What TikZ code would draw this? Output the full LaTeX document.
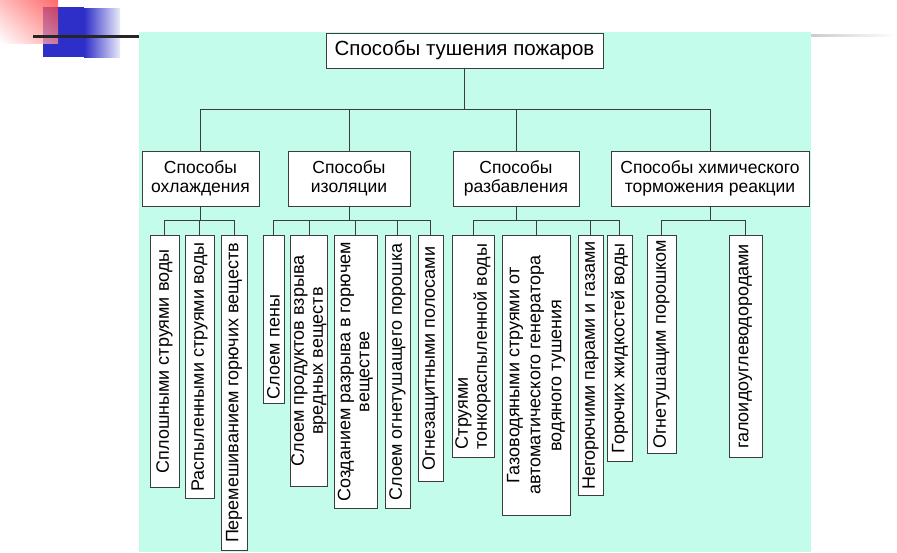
\documentclass[tikz,border=0pt]{standalone}
\usepackage{fontspec}
\setmainfont{Liberation Sans}
\usetikzlibrary{shadings}
\definecolor{bgmint}{RGB}{196,252,236}
\definecolor{linec}{RGB}{60,60,60}
\definecolor{decoblue}{RGB}{46,46,200}
\definecolor{decored}{RGB}{255,55,55}
\begin{document}
\begin{tikzpicture}[x=1pt,y=-1pt,
	box/.style={draw=linec, line width=0.8pt, fill=white, align=center, inner sep=2pt, font=\fontsize{17.5}{18.5}\selectfont},
	leaf/.style={draw=linec, line width=0.8pt, fill=white, rotate=90, anchor=east, inner xsep=4pt, inner ysep=1pt, align=center, font=\fontsize{18}{19}\selectfont},
	link/.style={draw=linec, line width=0.8pt}]
	\useasboundingbox (0,0) rectangle (897,552);
	% slide decoration
	\fill[decoblue] (43,7) rectangle (84,57);
	\shade[left color=decoblue, right color=decoblue!10] (84,8) rectangle (120,57);
	\shade[upper right=decored, upper left=decored!45, lower left=white, lower right=decored!55, fill opacity=0.75] (0,0) rectangle (58,43);
	\draw[line width=3pt, black!85] (33,36) -- (139,36);
	\shade[left color=black!20, right color=white] (811,34) rectangle (897,36);
	\fill[bgmint] (139,32) rectangle (811,552);

	\node[box, minimum width=277pt, minimum height=35pt, font=\fontsize{20.5}{22}\selectfont] (t) at (464.5,50.5) {Способы тушения пожаров};

	\node[box, minimum width=117pt, minimum height=55pt] (s1) at (200.5,178.5) {Способы\\охлаждения};
	\node[box, minimum width=122pt, minimum height=55pt] (s2) at (349,178.5) {Способы\\изоляции};
	\node[box, minimum width=126pt, minimum height=55pt] (s3) at (516,178.5) {Способы\\разбавления};
	\node[box, minimum width=198pt, minimum height=55pt] (s4) at (710,178.5) {Способы химического\\торможения реакции};

	% leaves, top edge at y=235
	\node[leaf, minimum width=252pt, minimum height=29pt] (c1) at (164.5,235) {Сплошными струями воды};
	\node[leaf, minimum width=263pt, minimum height=29pt] (c2) at (199.5,235) {Распыленными струями воды};
	\node[leaf, minimum width=315pt, minimum height=26pt] (c3) at (234,235) {Перемешиванием горючих веществ};
	\node[leaf, text width=160pt, align=left, minimum height=21pt] (c4) at (273.5,235) {Слоем пены};
	\node[leaf, minimum width=251pt, minimum height=34pt] (c5) at (309,235) {Слоем продуктов взрыва\\вредных веществ};
	\node[leaf, minimum width=273pt, minimum height=43pt] (c6) at (355.5,235) {Созданием разрыва в горючем\\веществе};
	\node[leaf, minimum width=273pt, minimum height=25pt] (c7) at (397.5,235) {Слоем огнетушащего порошка};
	\node[leaf, minimum width=246pt, minimum height=25pt] (c8) at (430.5,235) {Огнезащитными полосами};
	\node[leaf, align=left, minimum width=222pt, minimum height=42pt] (c9) at (473,235) {Струями\\тонкораспыленной воды};
	\node[leaf, minimum width=280pt, minimum height=68pt, font=\fontsize{18}{21}\selectfont] (c10) at (536,235) {Газоводяными струями от\\автоматического генератора\\водяного тушения};
	\node[leaf, minimum width=260pt, minimum height=25pt] (c11) at (590.5,235) {Негорючими парами и газами};
	\node[leaf, minimum width=226pt, minimum height=25pt] (c12) at (619.5,235) {Горючих жидкостей воды};
	\node[leaf, minimum width=218pt, minimum height=29pt] (c13) at (661.5,235) {Огнетушащим порошком};
	\node[leaf, minimum width=222pt, minimum height=33pt] (c14) at (745.5,235) {галоидоуглеводородами};

	\draw[link] (t.south) -- ++(0,41) -| (s1.north);
	\draw[link] (t.south) -- ++(0,41) -| (s2.north);
	\draw[link] (t.south) -- ++(0,41) -| (s3.north);
	\draw[link] (t.south) -- ++(0,41) -| (s4.north);

	\draw[link] (s1.south) -- ++(0,14) -| (c1.east);
	\draw[link] (s1.south) -- ++(0,14) -| (c2.east);
	\draw[link] (s1.south) -- ++(0,14) -| (c3.east);
	\draw[link] (s2.south) -- ++(0,14) -| (c4.east);
	\draw[link] (s2.south) -- ++(0,14) -| (c5.east);
	\draw[link] (s2.south) -- ++(0,14) -| (c6.east);
	\draw[link] (s2.south) -- ++(0,14) -| (c7.east);
	\draw[link] (s2.south) -- ++(0,14) -| (c8.east);
	\draw[link] (s3.south) -- ++(0,14) -| (c9.east);
	\draw[link] (s3.south) -- ++(0,14) -| (c10.east);
	\draw[link] (s3.south) -- ++(0,14) -| (c11.east);
	\draw[link] (s3.south) -- ++(0,14) -| (c12.east);
	\draw[link] (s4.south) -- ++(0,14) -| (c13.east);
	\draw[link] (s4.south) -- ++(0,14) -| (c14.east);
\end{tikzpicture}
\end{document}
